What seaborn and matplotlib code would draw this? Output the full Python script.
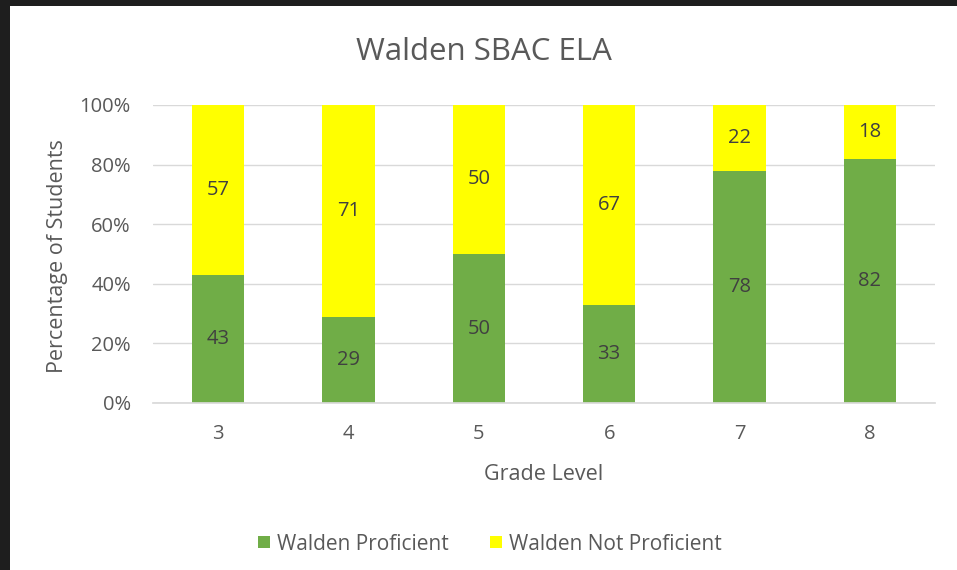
import matplotlib
matplotlib.use("Agg")
import matplotlib.pyplot as plt
import seaborn as sns
import pandas as pd
from matplotlib.patches import Rectangle, Patch
from matplotlib.ticker import PercentFormatter

grades = ["3", "4", "5", "6", "7", "8"]
proficient = [43, 29, 50, 33, 78, 82]
not_proficient = [57, 71, 50, 67, 22, 18]
series_names = ["Walden Proficient", "Walden Not Proficient"]
colors = ["#70AD47", "#FFFF00"]

sns.set_theme(style="white")
plt.rcParams["font.family"] = ["Open Sans", "DejaVu Sans"]

df = pd.DataFrame({"grade": grades, "prof": proficient, "notprof": not_proficient})
df["total"] = df["prof"] + df["notprof"]

fig = plt.figure(figsize=(9.57, 5.70), dpi=100)
ax = fig.add_axes([153/957, 1 - 403/570, (935-153)/957, (403-105)/570])

sns.barplot(data=df, x="grade", y="total", color=colors[1], width=0.4, ax=ax,
            saturation=1, edgecolor="none", linewidth=0)
sns.barplot(data=df, x="grade", y="prof", color=colors[0], width=0.4, ax=ax,
            saturation=1, edgecolor="none", linewidth=0)

for i, (p, n) in enumerate(zip(proficient, not_proficient)):
    ax.text(i, p / 2, str(p), ha="center", va="center", fontsize=14.5, color="#404040")
    ax.text(i, p + n / 2, str(n), ha="center", va="center", fontsize=14.5, color="#404040")

ax.set_ylim(0, 100)
ax.set_xlim(-0.5, 5.5)
ax.set_yticks([0, 20, 40, 60, 80, 100])
ax.yaxis.set_major_formatter(PercentFormatter(decimals=0))
ax.yaxis.grid(True, color="#D9D9D9", linewidth=1)
ax.set_axisbelow(True)
for s in ["top", "right", "left"]:
    ax.spines[s].set_visible(False)
ax.spines["bottom"].set_color("#D9D9D9")
ax.tick_params(axis="both", colors="#595959", labelsize=14.5, length=0)
ax.tick_params(axis="x", pad=15)
ax.tick_params(axis="y", pad=16)
xl = ax.set_xlabel("Grade Level", fontsize=15.5, color="#595959")
yl = ax.set_ylabel("Percentage of Students", fontsize=15.5, color="#595959")
xl.set_va("center")
yl.set_va("center")
ax.xaxis.set_label_coords(0.5, (403 - 474) / 298)
ax.yaxis.set_label_coords((57 - 153) / 782, (403 - 256) / 298)

fig.text(484/957, 1 - 52/570, "Walden SBAC ELA", ha="center", va="center",
         fontsize=22.5, color="#595959")

handles = [Patch(facecolor=c, edgecolor="none") for c in colors]
fig.legend(handles, series_names, loc="center", bbox_to_anchor=(490/957, 1 - 544/570),
           ncol=2, frameon=False, fontsize=15, labelcolor="#595959",
           handlelength=0.55, handleheight=0.55, handletextpad=0.35, columnspacing=2.0)

# screenshot frame
fig.patches.append(Rectangle((0, 0), 10/957, 1, transform=fig.transFigure,
                             facecolor="#1E1E1E", edgecolor="none", zorder=10))
fig.patches.append(Rectangle((0, 1 - 6/570), 1, 6/570, transform=fig.transFigure,
                             facecolor="#1E1E1E", edgecolor="none", zorder=10))

fig.savefig("out.png", dpi=100)
